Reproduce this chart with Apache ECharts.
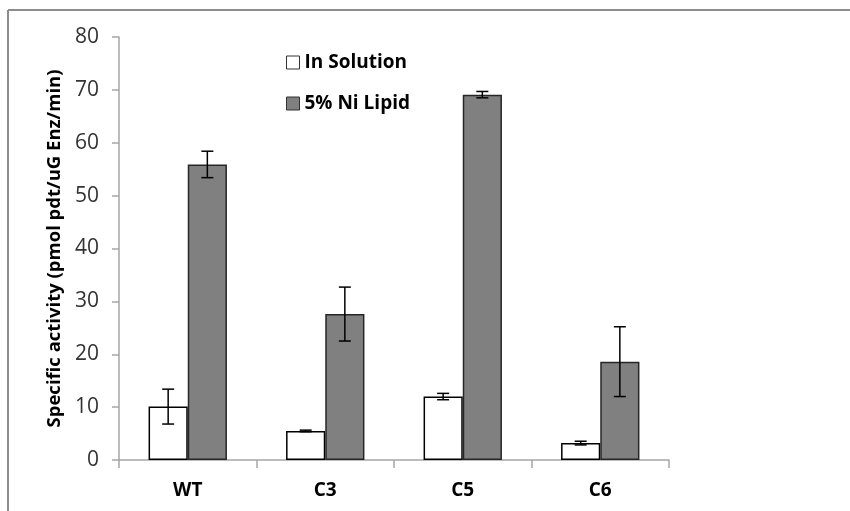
<!DOCTYPE html>
<html>
<head>
<meta charset="utf-8">
<script src="https://cdn.jsdelivr.net/npm/echarts@6/dist/echarts.min.js"></script>
<style>
html,body{margin:0;padding:0;background:#fff;}
#chart{width:850px;height:511px;}
</style>
</head>
<body>
<div id="chart"></div>
<script>
var categories = ['WT', 'C3', 'C5', 'C6'];
var seriesNames = ['In Solution', '5% Ni Lipid'];
var inSolution = [10.1, 5.5, 12.0, 3.2];
var inSolutionErr = [3.3, 0.15, 0.6, 0.35];
var niLipid = [55.9, 27.6, 69.1, 18.6];
var niLipidErr = [2.5, 5.1, 0.6, 6.6];
var yTicks = {min: 0, max: 80, interval: 10};

var chart = echarts.init(document.getElementById('chart'));
var CAT_GAP = 0.43;

function errData(vals, errs) {
  return vals.map(function (v, i) { return [i, v - errs[i], v + errs[i]]; });
}
function makeErr(vals, errs, side, name) {
  return {
    type: 'custom',
    name: name + ' err',
    z: 5,
    silent: true,
    data: errData(vals, errs),
    encode: {x: 0, y: [1, 2]},
    renderItem: function (params, api) {
      var i = api.value(0);
      var lo = api.coord([i, api.value(1)]);
      var hi = api.coord([i, api.value(2)]);
      var band = api.size([1, 0])[0];
      var bw = band * (1 - CAT_GAP) / 2;
      var x = lo[0] + side * bw / 2;
      var cap = 6;
      var st = {stroke: '#000', lineWidth: 1.5};
      return {
        type: 'group',
        children: [
          {type: 'line', shape: {x1: x, y1: lo[1], x2: x, y2: hi[1]}, style: st},
          {type: 'line', shape: {x1: x - cap, y1: lo[1], x2: x + cap, y2: lo[1]}, style: st},
          {type: 'line', shape: {x1: x - cap, y1: hi[1], x2: x + cap, y2: hi[1]}, style: st}
        ]
      };
    }
  };
}

var option = {
  backgroundColor: '#fff',
  animation: false,
  textStyle: {fontFamily: '"Open Sans", "Liberation Sans", sans-serif'},
  graphic: [
    {type: 'line', shape: {x1: 8, y1: 10, x2: 850, y2: 10}, style: {stroke: '#8c8c8c', lineWidth: 2}},
    {type: 'line', shape: {x1: 8, y1: 10, x2: 8, y2: 511}, style: {stroke: '#8c8c8c', lineWidth: 2}}
  ],
  legend: {
    orient: 'vertical',
    left: 281,
    top: 48,
    icon: 'rect',
    itemWidth: 13,
    itemHeight: 13,
    itemGap: 22,
    data: seriesNames,
    textStyle: {fontSize: 19, fontWeight: 'bold', color: '#000', fontFamily: '"Open Sans", sans-serif'},
    itemStyle: {borderColor: '#333', borderWidth: 1}
  },
  grid: {left: 119, right: 181, top: 37, bottom: 51, containLabel: false},
  xAxis: {
    type: 'category',
    data: categories,
    axisLine: {lineStyle: {color: '#a6a6a6', width: 1.5}},
    axisTick: {show: true, length: 8, lineStyle: {color: '#a6a6a6', width: 1.5}},
    axisLabel: {margin: 21, fontSize: 19, fontWeight: 'bold', color: '#000'}
  },
  yAxis: {
    type: 'value',
    min: yTicks.min, max: yTicks.max, interval: yTicks.interval,
    name: 'Specific activity (pmol pdt/uG Enz/min)',
    nameLocation: 'middle',
    nameGap: 55,
    nameTextStyle: {fontSize: 18.5, fontWeight: 'bold', color: '#000'},
    splitLine: {show: false},
    axisLine: {show: true, lineStyle: {color: '#a6a6a6', width: 1.5}},
    axisTick: {show: true, length: 7, lineStyle: {color: '#a6a6a6', width: 1.5}},
    axisLabel: {margin: 20, fontSize: 21, color: '#333'}
  },
  series: [
    {
      type: 'bar', name: seriesNames[0], data: inSolution,
      barCategoryGap: (CAT_GAP * 100) + '%', barGap: '0%',
      itemStyle: {color: '#ffffff', borderColor: '#000', borderWidth: 1.5}
    },
    {
      type: 'bar', name: seriesNames[1], data: niLipid,
      barCategoryGap: (CAT_GAP * 100) + '%', barGap: '0%',
      itemStyle: {color: '#808080', borderColor: '#262626', borderWidth: 1.5}
    },
    makeErr(inSolution, inSolutionErr, -1, seriesNames[0]),
    makeErr(niLipid, niLipidErr, 1, seriesNames[1])
  ]
};
chart.setOption(option);
</script>
</body>
</html>
